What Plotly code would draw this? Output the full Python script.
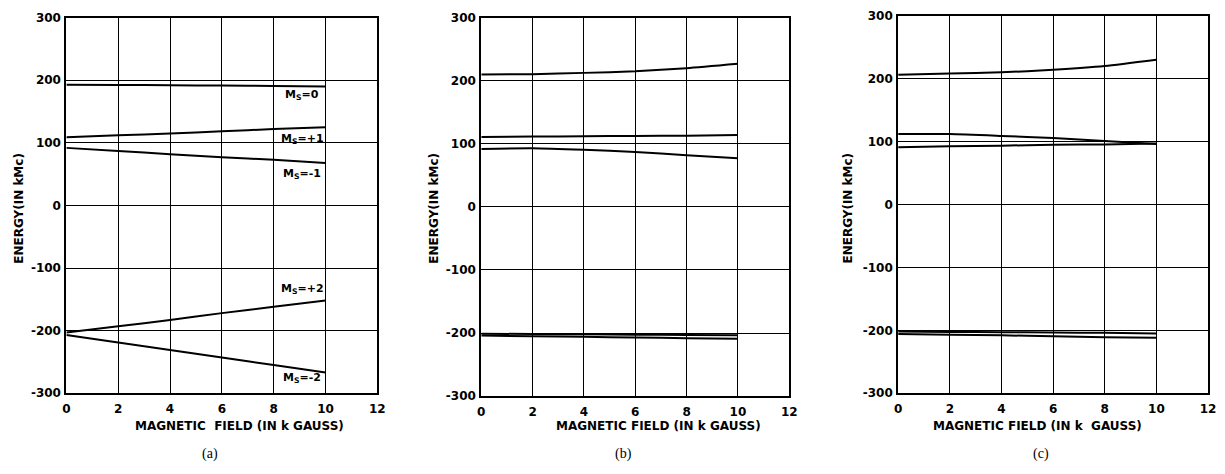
import plotly.graph_objects as go

# ---------------- data ----------------
field = [0, 2, 4, 6, 8, 10]

# panel (a)
a_ms0 = [193, 192.5, 192, 191.5, 191, 190]
a_msp1 = [109, 112, 115, 118.5, 122, 125]
a_msm1 = [92, 87, 82, 77, 73, 68]
a_msp2 = [-203, -193, -183, -172, -162, -152]
a_msm2 = [-207, -219, -231, -243, -255, -267]

# panel (b)
b_top = [210, 210.5, 212.5, 215, 220, 227]
b_mid1 = [111, 111.5, 112, 112.5, 113, 114]
b_mid2 = [92, 93, 90.5, 87, 82, 77]
b_low1 = [-201, -201.5, -202, -202.5, -203, -203.5]
b_low2 = [-204, -205, -206, -207, -208, -209]

# panel (c)
c_top = [206, 208, 210, 214, 220, 230]
c_mid1 = [112, 112, 109, 105.5, 101, 96]
c_mid2 = [91, 92.5, 93.5, 95, 95.5, 97]
c_low1 = [-202, -202.5, -203, -203.5, -204, -205]
c_low2 = [-206, -207, -208, -209.5, -211, -212]

y_ticks = [300, 200, 100, 0, -100, -200, -300]
y_tick_text = ["300", "200", "100", "0", "-100", "-200", "-300"]
x_ticks = [0, 2, 4, 6, 8, 10, 12]
x_tick_text = ["0", "2", "4", "6", "8", "10", "12"]

panels = [
    ("(a)", [a_ms0, a_msp1, a_msm1, a_msp2, a_msm2], "MAGNETIC  FIELD (IN k GAUSS)"),
    ("(b)", [b_top, b_mid1, b_mid2, b_low1, b_low2], "MAGNETIC FIELD (IN k GAUSS)"),
    ("(c)", [c_top, c_mid1, c_mid2, c_low1, c_low2], "MAGNETIC FIELD (IN k  GAUSS)"),
]

W, H = 1225, 474
x_dom_px = [(63, 377), (482, 793), (903, 1216)]
y_dom_px = [(11, 398), (11, 401), (9, 398)]
ytitle_px = [15, 434, 852]
xtitle_px = [238, 661, 1044]

FONT = "DejaVu Sans"

fig = go.Figure()

for i, (lab, series, xtitle) in enumerate(panels):
    sfx = "" if i == 0 else str(i + 1)
    for s in series:
        fig.add_trace(go.Scatter(
            x=field, y=s, mode="lines",
            line=dict(color="black", width=2, shape="spline", smoothing=0.6),
            xaxis="x" + sfx, yaxis="y" + sfx, showlegend=False, hoverinfo="skip"))
    x0, x1 = x_dom_px[i]
    y0, y1 = y_dom_px[i]
    common = dict(showline=True, mirror=True, linecolor="black", linewidth=2,
                  showgrid=True, gridcolor="black", gridwidth=1, zeroline=False,
                  ticks="", tickfont=dict(family=FONT, size=12, color="black", weight="bold"))
    fig.update_layout(**{
        "xaxis" + sfx: dict(domain=[x0 / W, x1 / W], range=[0, 12],
                             tickvals=x_ticks, ticktext=x_tick_text,
                             anchor="y" + sfx, ticklabelstandoff=3, **common),
        "yaxis" + sfx: dict(domain=[1 - y1 / H, 1 - y0 / H], range=[-300, 300],
                             tickvals=y_ticks, ticktext=y_tick_text,
                             anchor="x" + sfx, ticklabelstandoff=1, **common),
    })
    fig.add_annotation(text="<b>" + xtitle + "</b>", xref="paper", yref="paper",
                       x=xtitle_px[i] / W, y=1 - 432 / H, showarrow=False,
                       xanchor="center", yanchor="middle",
                       font=dict(family=FONT, size=12, color="black"))
    fig.add_annotation(text="<b>ENERGY(IN kMc)</b>", xref="paper", yref="paper",
                       x=ytitle_px[i] / W, y=1 - 207 / H, showarrow=False, textangle=-90,
                       xanchor="center", yanchor="middle",
                       font=dict(family=FONT, size=12, color="black"))
    fig.add_annotation(text=lab, xref="paper", yref="paper",
                       x=(x0 + x1) / 2 / W - 0.01, y=1 - 461 / H, showarrow=False,
                       xanchor="center", yanchor="middle",
                       font=dict(family="Liberation Serif", size=14, color="black"))

# level labels for panel (a)
level_labels = [("M<sub>S</sub>=0", 176), ("M<sub>S</sub>=+1", 106),
                ("M<sub>S</sub>=-1", 50), ("M<sub>S</sub>=+2", -134),
                ("M<sub>S</sub>=-2", -276)]
for txt, yv in level_labels:
    fig.add_annotation(text="<b>" + txt + "</b>", x=9.1, y=yv, xref="x", yref="y",
                       showarrow=False, xanchor="center", yanchor="middle",
                       font=dict(family=FONT, size=11, color="black"))

fig.update_layout(width=W, height=H, margin=dict(l=0, r=0, t=0, b=0),
                  paper_bgcolor="white", plot_bgcolor="white")

fig.write_html("out.html")
